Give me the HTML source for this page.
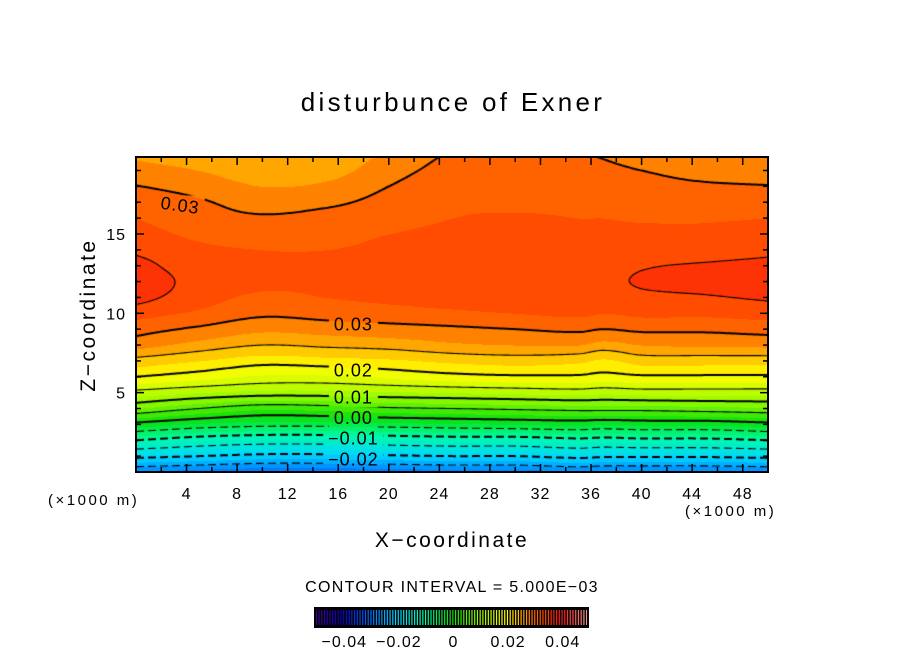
<!DOCTYPE html>
<html><head><meta charset="utf-8"><style>
html,body{margin:0;padding:0;background:#fff;}
#wrap{position:relative;width:904px;height:654px;overflow:hidden;font-family:"Liberation Sans",sans-serif;}
#plot{position:absolute;left:136px;top:157px;}
svg{position:absolute;left:0;top:0;}
</style></head><body>
<div id="wrap">
<canvas id="plot" width="632" height="315"></canvas>
<svg id="ov" width="904" height="654"></svg>
</div>
<script>
// ---- data ----
const xNodes = [0,5,10,15,20,25,30,35,37,40,45,50];
const zNodes = [0,1,2,3,4,5,6,7,8,9,10,11,12,13,14,15,16,17,18,19,20];
// values in units of 1e-3, one row per x node, z from 0 to 20
const col0  = [-28,-19,-10,-1,7.5,14,20,24,28.5,31,33.5,36,37,36,34.5,33.5,32.5,31.5,30.1,28.5,27];
const col5  = [-29,-20,-12,-3,5,12.5,18.5,22.5,26.5,29.5,32,33.5,34,33.5,33,32,31,30.3,29,27.5,26];
const col10 = [-30,-21,-13,-4,3,11.5,17,21,25,28,30.5,32,33,33,32.5,31.5,30.3,29,27.5,26,25];
const col15 = [-30,-21,-13,-4,3.5,11.5,17,21.5,25.5,28.5,31,32.5,33,33,32.5,31.8,30.8,29.5,28,26.5,25.5];
const col20 = [-29.5,-20.5,-12.5,-3.5,4.5,12,18,22,26,29,31.5,33,33.5,33.5,33,32.5,31.5,30.8,30,29,28];
const col25 = [-29,-20,-12,-3,5,12.5,19,23,27,29.5,32,33.5,34,34,33.8,33.2,32.5,32,31.5,30.8,30.2];
const col30 = [-29,-20,-12,-2.5,5.5,13,19.5,23.5,27.5,30,32.5,34,34.5,34.5,34,33.5,32.8,32,31.5,30.7,30];
const col35 = [-28,-19,-11,-2,6,13.5,19.5,23,27.5,30.5,33,34.5,34.5,34,33.5,33,32.5,32,31.3,30.6,30.1];
const col37 = [-28.5,-19.5,-11.5,-2.5,6,13,19,22,26.5,30,32.5,34,34.5,34,33.5,33,32.5,32,31.3,30.5,29.8];
const col40 = [-28.5,-19.5,-11,-2,6,13.5,19.5,23.5,27.5,30.5,33,34.5,35.2,34.8,33.8,33,32.3,31.5,30.7,30,29];
const col45 = [-28.5,-19.5,-11,-2,6.5,13.5,19.5,23.5,27.8,30.5,33,34.8,35.5,35.2,34,33,32.3,31.5,30.3,29.3,28.2];
const col50 = [-28,-19,-10,-1,7,13.5,19.5,23.5,28,31,33.5,35.3,35.7,35.5,34.5,33.5,32.5,31.5,30.1,29,28];
const grid = [col0,col5,col10,col15,col20,col25,col30,col35,col37,col40,col45,col50];
const xTicks = [4,8,12,16,20,24,28,32,36,40,44,48];
const zTicks = [5,10,15];
const cbTicks = [-0.04,-0.02,0,0.02,0.04];
const cbTickLabels = ["\u22120.04","\u22120.02","0","0.02","0.04"];
const contourLevels = [-0.025,-0.02,-0.015,-0.01,-0.005,0,0.005,0.01,0.015,0.02,0.025,0.03,0.035];
const contourLabels = [
 {t:"0.03",x:3.5,z:16.8,r:8},{t:"0.03",x:17.2,z:9.3,r:0},{t:"0.02",x:17.2,z:6.4,r:0},
 {t:"0.01",x:17.2,z:4.7,r:0},{t:"0.00",x:17.2,z:3.4,r:0},{t:"\u22120.01",x:17.2,z:2.1,r:0},{t:"\u22120.02",x:17.2,z:0.8,r:0}];

// ---- axes ----
const PX0=136, PX1=768, PY0=157, PY1=472, XMAX=50, ZMIN=0, ZMAX=19.85;
const W=PX1-PX0, H=PY1-PY0;
const sx = x => PX0 + x/XMAX*W;
const sz = z => PY1 - (z-ZMIN)/(ZMAX-ZMIN)*H;
const stops=[[-0.05,[70,0,150]],[-0.04,[10,0,190]],[-0.03,[0,110,255]],[-0.02,[0,215,255]],[-0.01,[0,250,170]],[0,[10,225,10]],[0.01,[150,250,0]],[0.02,[255,255,0]],[0.025,[255,185,0]],[0.03,[255,110,0]],[0.035,[255,65,0]],[0.0375,[250,35,10]],[0.04,[250,20,20]],[0.05,[255,150,150]]];
function cmap(v){
  if(v<=stops[0][0]) return stops[0][1];
  for(let i=1;i<stops.length;i++){ if(v<=stops[i][0]){const a=stops[i-1],b=stops[i];const t=(v-a[0])/(b[0]-a[0]);return a[1].map((c,k)=>Math.round(c+(b[1][k]-c)*t));}}
  return stops[stops.length-1][1];
}
function herm(nodes, vals, t){
  const n=nodes.length;
  if(t<=nodes[0]) return vals[0]; if(t>=nodes[n-1]) return vals[n-1];
  let i=0; while(t>nodes[i+1]) i++;
  const h=nodes[i+1]-nodes[i], s=(t-nodes[i])/h;
  const tan=j=>{ if(j==0) return (vals[1]-vals[0])/(nodes[1]-nodes[0]); if(j==n-1) return (vals[n-1]-vals[n-2])/(nodes[n-1]-nodes[n-2]); return (vals[j+1]-vals[j-1])/(nodes[j+1]-nodes[j-1]); };
  const m0=tan(i)*h, m1=tan(i+1)*h, s2=s*s, s3=s2*s;
  return (2*s3-3*s2+1)*vals[i]+(s3-2*s2+s)*m0+(-2*s3+3*s2)*vals[i+1]+(s3-s2)*m1;
}
const F=[];
for(let py=0;py<=H;py++){
  const z=ZMAX-(py/H)*(ZMAX-ZMIN);
  const cv=grid.map(c=>herm(zNodes,c,z));
  const row=new Float32Array(W+1);
  for(let px=0;px<=W;px++){ row[px]=herm(xNodes,cv,px/W*XMAX)/1000; }
  F.push(row);
}
const cv=document.getElementById('plot'), ctx=cv.getContext('2d');
const img=ctx.createImageData(W,H);
for(let py=0;py<H;py++)for(let px=0;px<W;px++){
  const v=F[py][px]; const q=(Math.floor(v/0.0025)+0.5)*0.0025; const c=cmap(q);
  const o=(py*W+px)*4; img.data[o]=c[0];img.data[o+1]=c[1];img.data[o+2]=c[2];img.data[o+3]=255;
}
ctx.putImageData(img,0,0);
ctx.font='18px "Liberation Sans", sans-serif';
const boxes=contourLabels.map(l=>{const w=ctx.measureText(l.t).width+l.t.length;const cx=sx(l.x)-PX0,cy=sz(l.z)-PY0;return [cx-w/2-5,cy-10,w+10,20];});
ctx.save();
ctx.beginPath(); ctx.rect(0,0,W,H); boxes.forEach(b=>ctx.rect(b[0],b[1],b[2],b[3])); ctx.clip('evenodd');
const S=2;
function interpPt(x1,y1,v1,x2,y2,v2,L){const t=(L-v1)/(v2-v1);return [x1+(x2-x1)*t,y1+(y2-y1)*t];}
contourLevels.forEach(L=>{
  const major=Math.abs(Math.round(L*100)-L*100)<1e-6;
  ctx.lineWidth=major?2:1.1; ctx.strokeStyle='#000'; ctx.beginPath();
  for(let py=0;py+S<=H;py+=S)for(let px=0;px+S<=W;px+=S){
    const a=F[py][px],b=F[py][px+S],c=F[py+S][px+S],d=F[py+S][px];
    const pts=[];
    if((a<L)!=(b<L)) pts.push(interpPt(px,py,a,px+S,py,b,L));
    if((b<L)!=(c<L)) pts.push(interpPt(px+S,py,b,px+S,py+S,c,L));
    if((c<L)!=(d<L)) pts.push(interpPt(px+S,py+S,c,px,py+S,d,L));
    if((d<L)!=(a<L)) pts.push(interpPt(px,py+S,d,px,py,a,L));
    for(let k=0;k+1<pts.length;k+=2){
      if(L<0 && Math.floor(px/4)%3==2) continue;
      ctx.moveTo(pts[k][0],pts[k][1]); ctx.lineTo(pts[k+1][0],pts[k+1][1]);
    }
  }
  ctx.stroke();
});
ctx.restore();

// ---- overlay SVG ----
const NS='http://www.w3.org/2000/svg', svg=document.getElementById('ov');
function el(tag,attrs,parent){const e=document.createElementNS(NS,tag);for(const k in attrs)e.setAttribute(k,attrs[k]);(parent||svg).appendChild(e);return e;}
function txt(s,attrs){const e=el('text',Object.assign({'font-family':'Liberation Sans, sans-serif',fill:'#000'},attrs));e.textContent=s;return e;}
contourLabels.forEach(l=>{
  const x=sx(l.x), y=sz(l.z);
  const t=txt(l.t,{x:x,y:y+6,'font-size':18,'letter-spacing':1,'text-anchor':'middle',transform:`rotate(${l.r} ${x} ${y})`});
  
  
});
const fr=el('rect',{x:PX0,y:PY0,width:W,height:H,fill:'none',stroke:'#000','stroke-width':2});


const tg=el('g',{stroke:'#000','stroke-width':1.5});


for(let x=2;x<XMAX;x+=2){const len=(x%4==0)?8:5;const X=sx(x);
  el('line',{x1:X,y1:PY1,x2:X,y2:PY1-len},tg);el('line',{x1:X,y1:PY0,x2:X,y2:PY0+len},tg);}
for(let z=1;z<ZMAX;z+=1){const len=(z%5==0)?8:5;const Y=sz(z);
  el('line',{x1:PX0,y1:Y,x2:PX0+len,y2:Y},tg);el('line',{x1:PX1,y1:Y,x2:PX1-len,y2:Y},tg);}
xTicks.forEach(v=>{const t=txt(String(v),{x:sx(v),y:499,'font-size':16,'letter-spacing':1,'text-anchor':'middle'});
  
  });
zTicks.forEach(v=>{const t=txt(String(v),{x:PX0-10,y:sz(v)+6,'font-size':16,'letter-spacing':1,'text-anchor':'end'});
  
  });
let t;
t=txt('disturbunce of Exner',{x:453,y:111,'font-size':26,'letter-spacing':3.3,'text-anchor':'middle'});

t=txt('X\u2212coordinate',{x:452,y:547,'font-size':21,'letter-spacing':2.5,'text-anchor':'middle'});

t=txt('Z\u2212coordinate',{x:0,y:0,'font-size':21,'letter-spacing':2.5,'text-anchor':'middle',transform:'translate(95,315) rotate(-90)'});

t=txt('(\u00d71000 m)',{x:48,y:505,'font-size':15,'letter-spacing':2.5});

t=txt('(\u00d71000 m)',{x:685,y:516,'font-size':15,'letter-spacing':2.5});

t=txt('CONTOUR INTERVAL = 5.000E\u221203',{x:452,y:592,'font-size':16,'letter-spacing':1.3,'text-anchor':'middle'});

const CB0=315, CB1=588, CBY=608, CBH=19;
const cbx=v=>CB0+(v+0.05)/0.1*(CB1-CB0);
const cg=el('g',{});


el('rect',{x:CB0,y:CBY,width:CB1-CB0,height:CBH,fill:'#000'},cg);
for(let i=0;i<100;i++){const v=-0.0495+i*0.001;const c=cmap(v);
  el('rect',{x:cbx(v)-0.6,y:CBY+2,width:1.2,height:CBH-4,fill:`rgb(${c[0]},${c[1]},${c[2]})`},cg);}
el('rect',{x:CB0,y:CBY,width:CB1-CB0,height:CBH,fill:'none',stroke:'#000','stroke-width':2},cg);
cbTicks.forEach((v,i)=>{const t=txt(cbTickLabels[i],{x:cbx(v)+2,y:647,'font-size':16,'letter-spacing':1,'text-anchor':'middle'});
  
  });
</script>
</body></html>
